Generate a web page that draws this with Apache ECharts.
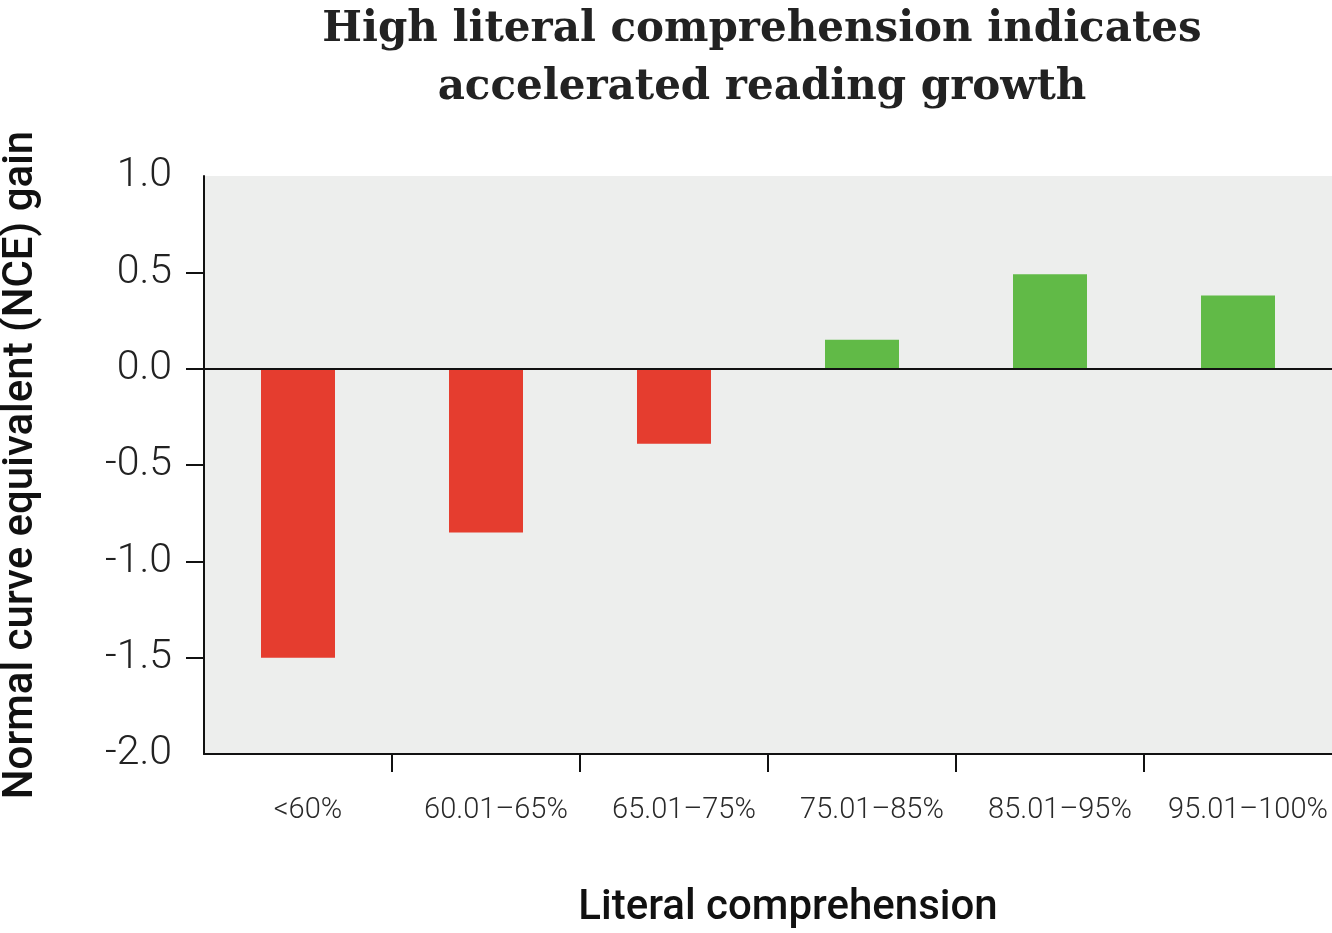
<!DOCTYPE html>
<html>
<head>
<meta charset="utf-8">
<script src="https://cdn.jsdelivr.net/npm/echarts@6/dist/echarts.min.js"></script>
<style>html,body{margin:0;padding:0;background:#fff}#c{width:1332px;height:933px}</style>
</head>
<body>
<div id="c"></div>
<script>
const categories = ['<60%', '60.01\u201365%', '65.01\u201375%', '75.01\u201385%', '85.01\u201395%', '95.01\u2013100%'];
const nceGain = [-1.5, -0.85, -0.39, 0.15, 0.49, 0.38];
const yTickValues = [-1.5, -1.0, -0.5, 0.0, 0.5];
const yMin = -2.0, yMax = 1.0, yStep = 0.5;
// category boundaries that carry a tick mark (between neighbouring categories)
const xBoundaryTicks = [1, 2, 3, 4, 5];

const chart = echarts.init(document.getElementById('c'), null, {renderer: 'canvas'});
chart.setOption({
  animation: false,
  backgroundColor: '#ffffff',
  title: {
    text: 'High literal comprehension indicates\naccelerated reading growth',
    left: 757, top: -4, textAlign: 'center',
    textStyle: {fontFamily: 'DejaVu Serif', fontWeight: 'bold', fontSize: 42, lineHeight: 58, color: '#222222'}
  },
  grid: {left: 204, right: 0, top: 176, bottom: 179, show: true, backgroundColor: '#edeeed', borderWidth: 0,
    containLabel: false, outerBoundsMode: 'none'},
  xAxis: [{
    type: 'category', data: categories,
    axisLine: {show: false},
    axisTick: {show: false},
    axisLabel: {fontFamily: 'Roboto', fontWeight: 300, fontSize: 29, color: '#2a2a2a', margin: 42, padding: [0, 0, 0, 20], interval: 0},
    name: 'Literal comprehension', nameLocation: 'middle', nameGap: 133,
    nameTextStyle: {fontFamily: 'Roboto', fontWeight: 500, fontSize: 42, color: '#111', padding: [0, 0, 0, 40]}
  }, {
    type: 'value', min: 0, max: categories.length, interval: 1, position: 'bottom',
    axisLine: {show: true, onZero: false, lineStyle: {color: '#111', width: 2}},
    axisTick: {show: true, length: 18, customValues: xBoundaryTicks, lineStyle: {color: '#111', width: 2}},
    axisLabel: {show: false}, splitLine: {show: false}
  }],
  yAxis: {
    type: 'value', min: yMin, max: yMax, interval: yStep,
    axisLine: {show: true, lineStyle: {color: '#111', width: 2}},
    axisTick: {show: true, length: 18, customValues: yTickValues, lineStyle: {color: '#111', width: 2}},
    splitLine: {show: false},
    axisLabel: {fontFamily: 'Roboto', fontWeight: 300, fontSize: 41, color: '#222', margin: 32,
      formatter: v => v.toFixed(1)},
    name: 'Normal curve equivalent (NCE) gain', nameLocation: 'middle', nameGap: 162,
    nameTextStyle: {fontFamily: 'Roboto', fontWeight: 500, fontSize: 42, color: '#111'}
  },
  series: [{
    type: 'bar', data: nceGain, barWidth: 74, xAxisIndex: 0,
    itemStyle: {color: p => p.value < 0 ? '#e53d2f' : '#61ba47'},
    markLine: {
      silent: true, symbol: 'none', label: {show: false},
      lineStyle: {color: '#111', width: 2, type: 'solid'},
      data: [{yAxis: 0}], z: 10
    }
  }]
});
</script>
</body>
</html>
